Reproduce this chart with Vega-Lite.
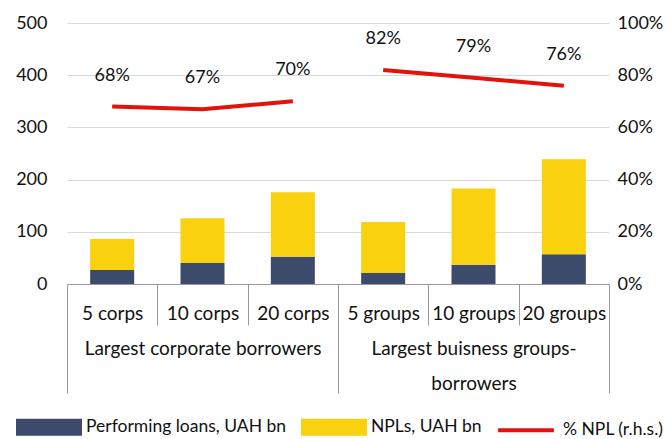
{
  "$schema": "https://vega.github.io/schema/vega-lite/v6.json",
  "autosize": "none",
  "width": 542,
  "height": 261,
  "padding": {"left": 67, "top": 23, "right": 59, "bottom": 155},
  "config": {"font": "Lato", "view": {"stroke": null}, "axis": {"labelColor": "#111", "labelFontSize": 18}, "legend": {"labelColor": "#111"}},
  "data": {"values": [
    {"cat": "5 corps", "grp": "Largest corporate borrowers", "perf": 27, "npl": 59, "pct": 0.68},
    {"cat": "10 corps", "grp": "Largest corporate borrowers", "perf": 40, "npl": 86, "pct": 0.67},
    {"cat": "20 corps", "grp": "Largest corporate borrowers", "perf": 52, "npl": 124, "pct": 0.70},
    {"cat": "5 groups", "grp": "Largest buisness groups-borrowers", "perf": 21, "npl": 98, "pct": 0.82},
    {"cat": "10 groups", "grp": "Largest buisness groups-borrowers", "perf": 37, "npl": 146, "pct": 0.79},
    {"cat": "20 groups", "grp": "Largest buisness groups-borrowers", "perf": 57, "npl": 182, "pct": 0.76}
  ]},
  "resolve": {"scale": {"y": "independent"}},
  "layer": [
    {
      "transform": [{"fold": ["perf", "npl"], "as": ["key", "value"]}],
      "mark": {"type": "bar", "size": 44},
      "encoding": {
        "x": {"field": "cat", "type": "nominal", "sort": null,
          "scale": {"paddingInner": 0, "paddingOuter": 0},
          "axis": {"title": null, "orient": "bottom", "labelAngle": 0, "tickBand": "extent",
            "tickSize": {"condition": {"test": "datum.value == '20 corps' || datum.value == '20 groups' || datum.extra", "value": 109}, "value": 41},
            "labelPadding": {"condition": {"test": "datum.value == '20 corps' || datum.value == '20 groups'", "value": -89}, "value": -21},
            "labelLineHeight": 35, "labelLimit": 0, "domainColor": "#999", "tickColor": "#999", "labelFontSize": 19, "grid": false,
            "labelExpr": "datum.value == '10 corps' ? ['10 corps', 'Largest corporate borrowers'] : datum.value == '10 groups' ? ['10 groups', 'Largest buisness groups-', 'borrowers'] : datum.value"}},
        "y": {"field": "value", "type": "quantitative", "stack": "zero",
          "scale": {"domain": [0, 500]},
          "axis": {"title": null, "orient": "left", "values": [0, 100, 200, 300, 400, 500], "domain": false, "ticks": false, "labelPadding": 20, "gridColor": "#d9d9d9", "labelFontSize": 18}},
        "color": {"field": "key", "type": "nominal",
          "scale": {"domain": ["perf", "npl", "pct"], "range": ["#3c4a6b", "#f9d10f", "#e3120b"]},
          "legend": {"orient": "none", "legendX": -51, "legendY": 371, "direction": "horizontal", "columns": 3, "title": null,
            "labelFontSize": 17.5, "symbolSize": 3844, "symbolType": "M-1,-0.21H1V0.21H-1Z", "labelLimit": 0, "columnPadding": 8, "labelOffset": 4,
            "labelExpr": "datum.value == 'perf' ? 'Performing loans, UAH bn' : datum.value == 'npl' ? 'NPLs, UAH bn' : '% NPL (r.h.s.)'",
            "encode": {"symbols": {"update": {
              "shape": {"signal": "datum.value == 'pct' ? 'M-0.9,0H0.9' : 'M-1,-0.21H1V0.21H-1Z'"},
              "fill": {"signal": "datum.value == 'pct' ? 'transparent' : scale('color', datum.value)"},
              "stroke": {"signal": "datum.value == 'pct' ? scale('color', datum.value) : 'transparent'"},
              "strokeWidth": {"value": 4},
              "opacity": {"value": 1}
            }}}}},
        "order": {"field": "key", "sort": "descending"}
      }
    },
    {
      "transform": [{"fold": ["pct"], "as": ["key", "share"]}],
      "mark": {"type": "line", "strokeWidth": 4},
      "encoding": {
        "x": {"field": "cat", "type": "nominal", "sort": null},
        "y": {"field": "share", "type": "quantitative", "scale": {"domain": [0, 1]},
          "axis": {"title": null, "orient": "right", "format": ".0%", "values": [0, 0.2, 0.4, 0.6, 0.8, 1], "grid": false, "domain": false, "ticks": false, "labelPadding": 8, "labelFontSize": 18}},
        "detail": {"field": "grp", "type": "nominal"},
        "color": {"field": "key", "type": "nominal"}
      }
    },
    {
      "mark": {"type": "text", "dy": -31, "fontSize": 18, "color": "#111"},
      "encoding": {
        "x": {"field": "cat", "type": "nominal", "sort": null},
        "y": {"field": "pct", "type": "quantitative", "scale": {"domain": [0, 1]}, "axis": null},
        "text": {"field": "pct", "type": "quantitative", "format": ".0%"}
      }
    }
  ]
}
